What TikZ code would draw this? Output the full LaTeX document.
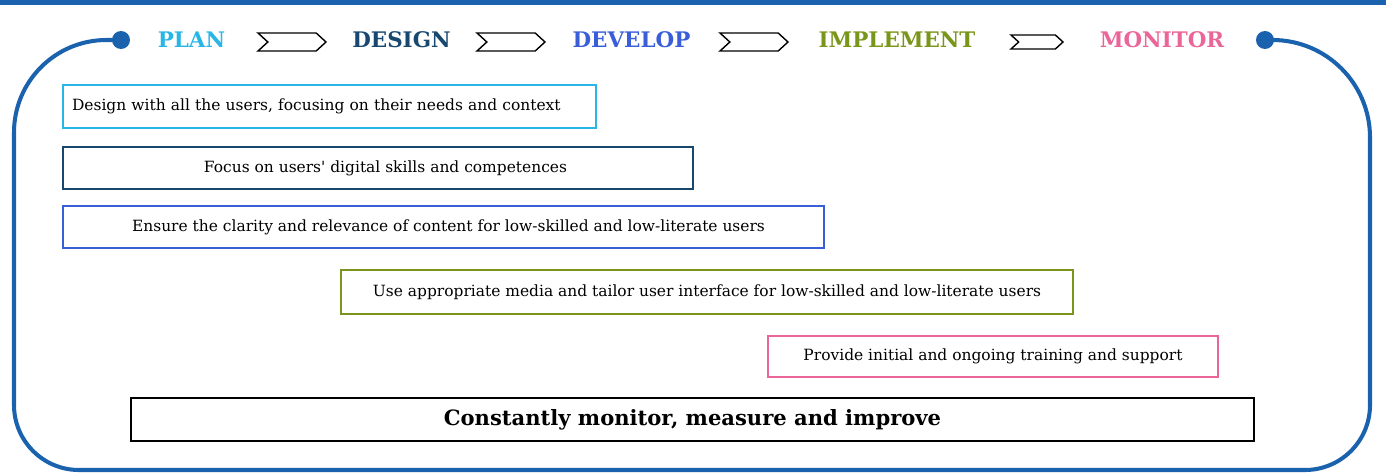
\documentclass[tikz,border=0pt]{standalone}
\usepackage{fontspec}
\setmainfont{DejaVu Serif}
\usepackage{tikz}
\usetikzlibrary{shapes.symbols}
\definecolor{frame_blue}{RGB}{26,98,173}
\definecolor{plan_blue}{RGB}{41,182,230}
\definecolor{design_navy}{RGB}{24,72,112}
\definecolor{develop_blue}{RGB}{58,94,216}
\definecolor{implement_green}{RGB}{122,150,26}
\definecolor{monitor_pink}{RGB}{234,102,153}

\begin{document}
\begin{tikzpicture}[x=0.02cm,y=-0.02cm]
    \tikzstyle{phase}=[font=\bfseries\fontsize{12.2}{14}\selectfont, inner sep=0pt]
    \tikzstyle{chevron}=[draw=black, line width=0.8pt, signal, signal from=west, signal to=east, signal pointer angle=85, minimum width=1.36cm, minimum height=0.36cm, inner sep=0pt]
    \tikzstyle{dot}=[circle, fill=frame_blue, minimum size=0.36cm, inner sep=0pt]
    \tikzstyle{box}=[draw, line width=1.4pt, rectangle, font=\fontsize{8.8}{11}\selectfont, text=black]

    \useasboundingbox (0,0) rectangle (1386,473);
    \fill[frame_blue] (0,0) rectangle (1386,5);

    % phases along the top
    \node[phase,text=plan_blue]       (plan)      at (191.5,40) {PLAN};
    \node[phase,text=design_navy]     (design)    at (401.5,40) {DESIGN};
    \node[phase,text=develop_blue]    (develop)   at (631.5,40) {DEVELOP};
    \node[phase,text=implement_green] (implement) at (897,40)   {IMPLEMENT};
    \node[phase,text=monitor_pink]    (monitor)   at (1162,40)  {MONITOR};

    \node[chevron] (c1) at (292,42)  {};
    \node[chevron] (c2) at (511,42)  {};
    \node[chevron] (c3) at (754,42)  {};
    \node[chevron,minimum width=1.04cm,minimum height=0.28cm] (c4) at (1037,42) {};

    % frame
    \node[dot] (ldot) at (121,40) {};
    \node[dot] (rdot) at (1265,40) {};
    \draw[frame_blue, line width=2.3pt]
      (ldot.center) [rounded corners=1.85cm] -- (14,40) -- (14,250)
      [rounded corners=1.3cm] -- (14,470) -- (1370,470) -- (1370,250)
      [rounded corners=1.95cm] -- (1370,40) -- (rdot.center);

    % boxes
    \node[box,draw=plan_blue,minimum width=10.66cm,minimum height=0.86cm,text width=10.3cm,align=left,inner xsep=0.18cm] (users) at (329.5,106.5)
      {Design with all the users, focusing on their needs and context};
    \node[box,draw=design_navy,minimum width=12.6cm,minimum height=0.84cm] (skills) at (378,168)
      {\hspace*{0.3cm}Focus on users\textquotesingle\ digital skills and competences};
    \node[box,draw=develop_blue,minimum width=15.22cm,minimum height=0.84cm] (content) at (443.5,227)
      {\hspace*{0.2cm}Ensure the clarity and relevance of content for low-skilled and low-literate users};
    \node[box,draw=implement_green,minimum width=14.64cm,minimum height=0.88cm] (media) at (707,292)
      {Use appropriate media and tailor user interface for low-skilled and low-literate users};
    \node[box,draw=monitor_pink,minimum width=9cm,minimum height=0.82cm] (training) at (993,356.5)
      {Provide initial and ongoing training and support};
    \node[box,draw=black,minimum width=22.46cm,minimum height=0.86cm,font=\bfseries\fontsize{12}{14}\selectfont] (improve) at (692.5,419.5)
      {Constantly monitor, measure and improve};
\end{tikzpicture}
\end{document}
